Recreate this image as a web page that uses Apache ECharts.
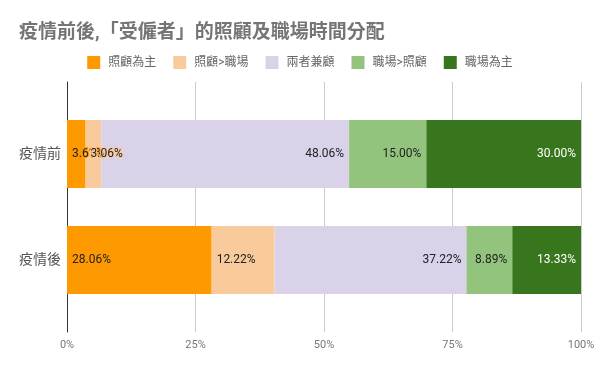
<!DOCTYPE html>
<html>
<head>
<meta charset="utf-8">
<script src="https://cdn.jsdelivr.net/npm/echarts@6/dist/echarts.min.js"></script>
<style>html,body{margin:0;padding:0;background:#fff;}#c{width:600px;height:371px;}</style>
</head>
<body>
<div id="c"></div>
<script>
var titleText = '疫情前後,「受僱者」的照顧及職場時間分配';
var categories = ['疫情前', '疫情後'];
var seriesNames = ['照顧為主', '照顧>職場', '兩者兼顧', '職場>照顧', '職場為主'];
var careFirst = [3.61, 28.06];
var careOverWork = [3.06, 12.22];
var both = [48.06, 37.22];
var workOverCare = [15.00, 8.89];
var workFirst = [30.00, 13.33];
var xTicks = [0, 25, 50, 75, 100];

var colors = ['#ff9900', '#f9cb9c', '#d9d2e9', '#93c47d', '#38761d'];
var labelColors = ['#222', '#222', '#222', '#222', '#fff'];
var labelPos = ['insideLeft', 'insideLeft', 'insideRight', 'insideRight', 'insideRight'];
var FONT = "Roboto, 'Noto Sans CJK TC', sans-serif";

var allSeries = [careFirst, careOverWork, both, workOverCare, workFirst];
var rowSums = categories.map(function (c, i) {
  return allSeries.reduce(function (s, arr) { return s + arr[i]; }, 0);
});

var series = allSeries.map(function (arr, k) {
  return {
    name: seriesNames[k],
    type: 'bar',
    stack: 'total',
    xAxisIndex: 1,
    yAxisIndex: 1,
    barWidth: 68,
    itemStyle: { color: colors[k] },
    data: arr.map(function (v, i) { return { value: v / rowSums[i] * 100, raw: v }; }),
    label: {
      show: true,
      position: labelPos[k],
      distance: 5,
      fontFamily: FONT,
      fontSize: 12,
      color: labelColors[k],
      textBorderColor: colors[k],
      textBorderWidth: 2,
      formatter: function (p) { return p.data.raw.toFixed(2) + '%'; }
    }
  };
});

var chart = echarts.init(document.getElementById('c'));
chart.setOption({
  animation: false,
  title: {
    text: titleText,
    left: 14,
    top: 19,
    textStyle: { fontFamily: FONT, fontSize: 19, fontWeight: 'bold', color: '#757575' }
  },
  legend: {
    data: seriesNames,
    top: 51,
    left: 'center',
    icon: 'rect',
    itemWidth: 13,
    itemHeight: 13,
    itemGap: 17,
    textStyle: { fontFamily: FONT, fontSize: 12, color: '#666', padding: [0, 0, 0, 3] }
  },
  grid: [
    { left: 67, right: 19, top: 82, bottom: 39 },
    { left: 67, right: 19, top: 101, bottom: 58 }
  ],
  xAxis: [
    {
      gridIndex: 0, type: 'value', min: 0, max: 100, interval: 25,
      axisLine: { show: false }, axisTick: { show: false },
      splitLine: { lineStyle: { color: '#cccccc' } },
      axisLabel: {
        margin: 8, fontFamily: FONT, fontSize: 11, color: '#777',
        formatter: function (v) { return xTicks.indexOf(v) >= 0 ? v + '%' : ''; }
      }
    },
    {
      gridIndex: 1, type: 'value', min: 0, max: 100, show: false
    }
  ],
  yAxis: [
    {
      gridIndex: 0, type: 'category', data: [''],
      axisLine: { show: true, lineStyle: { color: '#333', width: 1 } },
      axisTick: { show: false }, axisLabel: { show: false }, splitLine: { show: false }
    },
    {
      gridIndex: 1, type: 'category', data: categories, inverse: true,
      axisLine: { show: false }, axisTick: { show: false },
      axisLabel: { margin: 6, fontFamily: FONT, fontSize: 14, color: '#555' }
    }
  ],
  series: series
});
</script>
</body>
</html>
